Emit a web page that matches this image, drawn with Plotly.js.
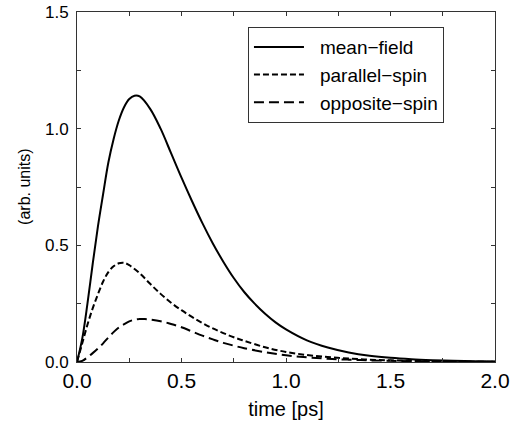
<!DOCTYPE html>
<html>
<head>
<meta charset="utf-8">
<script src="https://cdn.plot.ly/plotly-3.0.1.min.js"></script>
<style>html,body{margin:0;padding:0;background:#fff;}#chart{width:519px;height:430px;}</style>
</head>
<body>
<div id="chart"></div>
<script>
// mean-field
var tMean = [0,0.025,0.05,0.075,0.1,0.125,0.15,0.175,0.2,0.225,0.25,0.275,0.3,0.35,0.4,0.45,0.5,0.55,0.6,0.65,0.7,0.75,0.8,0.85,0.9,0.95,1.0,1.1,1.2,1.3,1.4,1.5,1.6,1.7,1.8,1.9,2.0];
var vMean = [0,0.10,0.25,0.42,0.58,0.72,0.855,0.955,1.035,1.092,1.127,1.141,1.138,1.085,1.00,0.895,0.79,0.69,0.595,0.508,0.43,0.36,0.30,0.25,0.207,0.17,0.14,0.093,0.062,0.041,0.027,0.018,0.012,0.008,0.005,0.003,0.002];
// parallel-spin
var tPar = [0,0.025,0.05,0.075,0.1,0.125,0.15,0.175,0.2,0.225,0.25,0.3,0.35,0.4,0.45,0.5,0.55,0.6,0.65,0.7,0.75,0.8,0.9,1.0,1.1,1.2,1.3,1.4,1.5,1.6,1.8,2.0];
var vPar = [0,0.08,0.16,0.23,0.29,0.345,0.385,0.41,0.423,0.425,0.415,0.38,0.335,0.292,0.254,0.222,0.193,0.167,0.144,0.124,0.106,0.091,0.063,0.043,0.03,0.021,0.015,0.01,0.007,0.005,0.002,0.001];
// opposite-spin
var tOpp = [0,0.025,0.05,0.075,0.1,0.125,0.15,0.175,0.2,0.225,0.25,0.275,0.3,0.325,0.35,0.4,0.45,0.5,0.55,0.6,0.65,0.7,0.75,0.8,0.9,1.0,1.1,1.2,1.3,1.4,1.5,1.6,1.8,2.0];
var vOpp = [0,0.005,0.02,0.038,0.058,0.08,0.105,0.128,0.148,0.162,0.174,0.181,0.184,0.184,0.182,0.175,0.163,0.149,0.131,0.113,0.097,0.082,0.07,0.059,0.042,0.029,0.02,0.014,0.01,0.007,0.005,0.003,0.002,0.001];

var seriesNames = ['mean\u2212field','parallel\u2212spin','opposite\u2212spin'];
var xTicks = [0,0.5,1.0,1.5,2.0];
var xTickText = ['0.0','0.5','1.0','1.5','2.0'];
var yTicks = [0,0.5,1.0,1.5];
var yTickText = ['0.0','0.5','1.0','1.5'];

var font = 'Liberation Sans, Arial, Helvetica, sans-serif';

var traces = [
  {x:tMean, y:vMean, name:seriesNames[0], mode:'lines', line:{color:'#000', width:2, shape:'spline'}},
  {x:tPar, y:vPar, name:seriesNames[1], mode:'lines', line:{color:'#000', width:2, dash:'6px,3px', shape:'spline'}},
  {x:tOpp, y:vOpp, name:seriesNames[2], mode:'lines', line:{color:'#000', width:2, dash:'10px,5px', shape:'spline'}}
];

var axisCommon = {
  showgrid:false, zeroline:false, showline:true, linecolor:'#333', linewidth:1,
  mirror:'ticks', ticks:'inside', ticklen:4, tickcolor:'#333', tickwidth:1,
  tickmode:'array',
  minor:{dtick:0.25, ticks:'inside', ticklen:4, tickcolor:'#333', tickwidth:1, showgrid:false}
};

var layout = {
  width:519, height:430,
  margin:{l:77, r:24, t:12, b:68},
  paper_bgcolor:'#fff', plot_bgcolor:'#fff',
  font:{family:font, color:'#000'},
  showlegend:true,
  legend:{x:0.409, y:0.957, xanchor:'left', yanchor:'top', bgcolor:'#fff',
    bordercolor:'#333', borderwidth:1, font:{size:19, family:font, color:'#000'},
    tracegroupgap:0, itemwidth:61},
  xaxis:Object.assign({}, axisCommon, {
    range:[0,2], tickvals:xTicks, ticktext:xTickText,
    tickfont:{size:21, family:font},
    title:{text:'time [ps]', font:{size:20, family:font}, standoff:10}
  }),
  yaxis:Object.assign({}, axisCommon, {
    range:[0,1.5], tickvals:yTicks, ticktext:yTickText,
    tickfont:{size:17, family:font}, ticklabelstandoff:4
  }),
  annotations:[{
    text:'(arb. units)', xref:'paper', yref:'paper', x:-0.127, y:0.5,
    textangle:-90, showarrow:false, font:{size:16, family:font, color:'#000'},
    xanchor:'center', yanchor:'middle'
  }]
};

Plotly.newPlot('chart', traces, layout, {displayModeBar:false, staticPlot:true}).then(function(gd){
  // lengthen legend sample lines to match the reference
  var paths = gd.querySelectorAll('.legend .legendlines path');
  paths.forEach(function(p){ p.setAttribute('d','M5,0h50'); });
});
</script>
</body>
</html>
